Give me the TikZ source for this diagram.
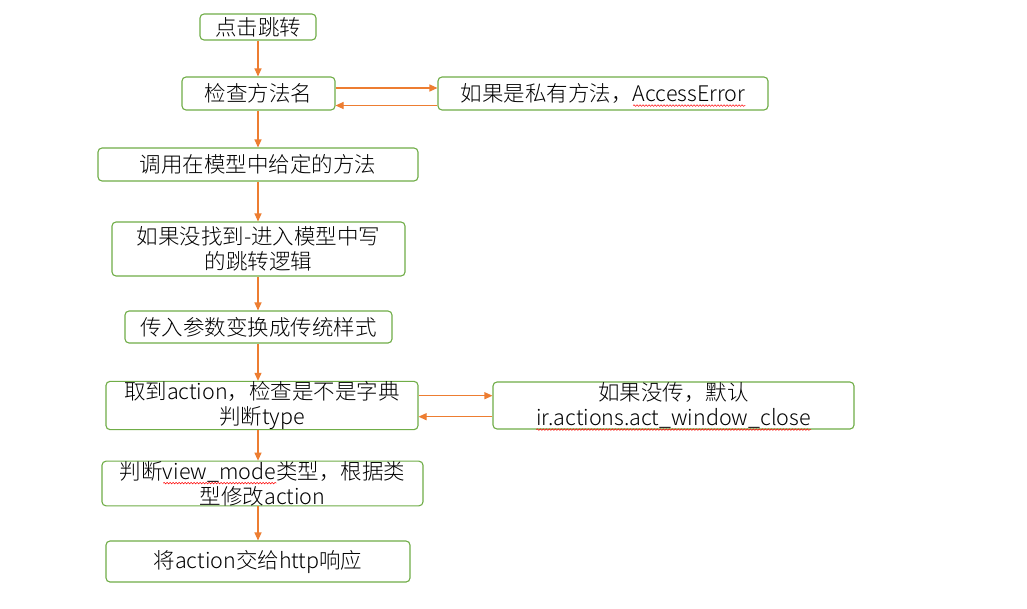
\documentclass[tikz,border=0pt]{standalone}
\usepackage{fontspec}
\IfFontExistsTF{Noto Sans CJK SC Light}{\setmainfont{Noto Sans CJK SC Light}}{\setmainfont{Noto Sans CJK SC}}
\usetikzlibrary{arrows.meta,calc,decorations.pathmorphing}
\definecolor{bgreen}{HTML}{70AD47}
\definecolor{aorange}{HTML}{ED7D31}
\newcommand\wv[1]{\setbox0\hbox{#1}\rlap{\smash{\raisebox{-4pt}{\tikz[baseline=0pt,x=1pt,y=1pt,sharp corners]\draw[red,line width=0.5pt,decorate,decoration={snake,amplitude=0.8pt,segment length=3pt}] (0,0) -- (\the\wd0,0);}}}\box0}
\tikzset{
  box/.style={draw=bgreen, line width=1.1pt, rounded corners=4pt, inner sep=0pt,
    align=center, font=\fontsize{21.5}{25}\selectfont},
  arr/.style={draw=aorange, line width=1.1pt, -{Triangle[length=8pt,width=7pt]}}
}
\begin{document}
\begin{tikzpicture}[x=1pt,y=-1pt]
\fill[white] (0,0) rectangle (1027,608);
\useasboundingbox (0,0) rectangle (1027,608);
\node[box, minimum width=116pt, minimum height=26pt] (b1) at (258,27) {点击跳转};
\node[box, minimum width=153pt, minimum height=33pt] (b2) at (258.5,93.5) {检查方法名};
\node[box, minimum width=330pt, minimum height=33pt] (b3) at (603,93.5) {如果是私有方法，\wv{AccessError}};
\node[box, minimum width=320pt, minimum height=33pt] (b4) at (258,164.5) {调用在模型中给定的方法};
\node[box, minimum width=293pt, minimum height=54pt] (b5) at (258.5,249) {如果没找到-进入模型中写\\的跳转逻辑};
\node[box, minimum width=267pt, minimum height=32pt] (b6) at (258.5,327) {传入参数变换成传统样式};
\node[box, minimum width=312pt, minimum height=41pt] (b7) at (262,405.5) {取到action，检查是不是字典\\判断type};
\node[box, minimum width=361pt, minimum height=47pt] (b8) at (673.5,405.5) {如果没传，默认\\\wv{ir.actions.act\_window\_close}};
\node[box, minimum width=321pt, minimum height=41pt] (b9) at (262.5,483.5) {判断\wv{view\_mode}类型，根据类\\型修改action};
\node[box, minimum width=304pt, minimum height=41pt] (b10) at (258,561.5) {将action交给http响应};

\draw[arr] (b1.south) -- (b1.south |- b2.north);
\draw[arr] ($(b2.east)+(0,-5.5)$) -- ($(b3.west)+(0,-5.5)$);
\draw[arr] ($(b3.west)+(0,12)$) -- ($(b2.east)+(0,12)$);
\draw[arr] (b2.south -| b1.south) -- (b1.south |- b4.north);
\draw[arr] (b4.south) -- (b4.south |- b5.north);
\draw[arr] (b4.south |- b5.south) -- (b4.south |- b6.north);
\draw[arr] (b4.south |- b6.south) -- (b4.south |- b7.north);
\draw[arr] ($(b7.east)+(0,-9.8)$) -- ($(b8.west)+(0,-9.8)$);
\draw[arr] ($(b8.west)+(0,11.2)$) -- ($(b7.east)+(0,11.2)$);
\draw[arr] (b4.south |- b7.south) -- (b4.south |- b9.north);
\draw[arr] (b10.north |- b9.south) -- (b10.north);
\end{tikzpicture}
\end{document}
